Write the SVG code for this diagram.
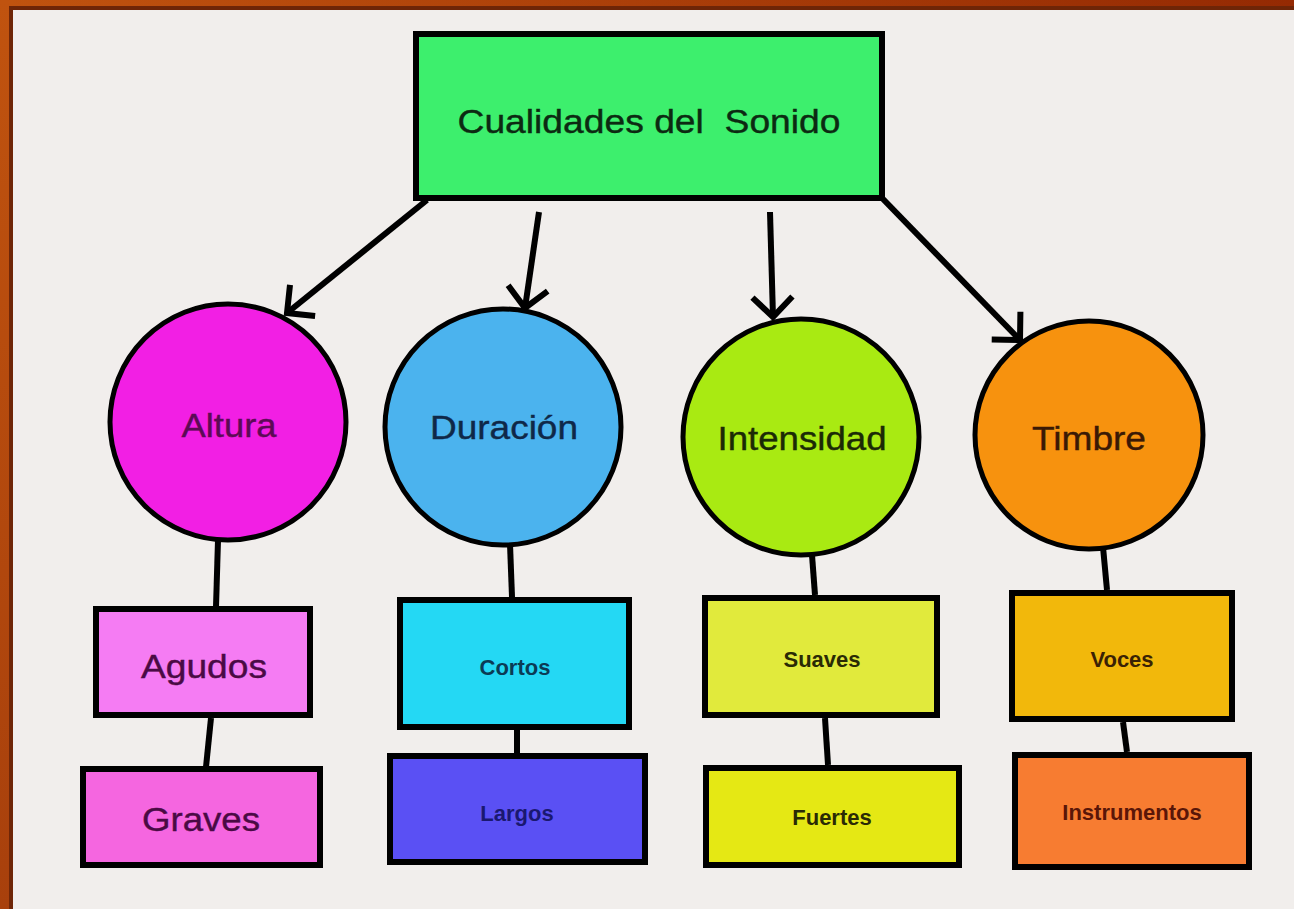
<svg xmlns="http://www.w3.org/2000/svg" width="1294" height="909" viewBox="0 0 1294 909">
<defs>
  <linearGradient id="frameH" x1="0" y1="0" x2="1" y2="0">
    <stop offset="0" stop-color="#c0530f"/>
    <stop offset="1" stop-color="#952a03"/>
  </linearGradient>
  <linearGradient id="frameV" x1="0" y1="0" x2="0" y2="1">
    <stop offset="0" stop-color="#c0530f"/>
    <stop offset="1" stop-color="#a8400c"/>
  </linearGradient>
  <marker id="chev" markerUnits="userSpaceOnUse" markerWidth="60" markerHeight="60" viewBox="-30 -30 60 60" refX="0" refY="0" orient="auto" overflow="visible">
    <path d="M-20,-20 L0,0 L-20,20" fill="none" stroke="#000" stroke-width="6" stroke-linecap="butt" stroke-linejoin="miter"/>
  </marker>
</defs>
<style>
  .box { stroke: #000; stroke-width: 6; }
  .circ { stroke: #000; stroke-width: 5; }
  .big { font-family: "Liberation Sans", Arial, sans-serif; font-size: 34px; text-anchor: middle; stroke-width: 0.4; }
  .small { font-family: "Liberation Sans", Arial, sans-serif; font-size: 22px; font-weight: bold; text-anchor: middle; }
  .conn { stroke: #000; stroke-width: 6; fill: none; }
</style>
<rect x="0" y="0" width="1294" height="909" fill="#f1eeec"/>
<rect x="0" y="0" width="1294" height="10" fill="url(#frameH)"/>
<rect x="13" y="6" width="1281" height="4" fill="#6e2507"/>
<rect x="0" y="0" width="13" height="909" fill="url(#frameV)"/>
<rect x="9" y="6" width="4" height="903" fill="#6e2507"/>

<g id="connectors">
  <line class="conn" x1="427" y1="200" x2="287" y2="313" marker-end="url(#chev)"/>
  <line class="conn" x1="539" y1="212" x2="525" y2="308" marker-end="url(#chev)"/>
  <line class="conn" x1="770" y1="212" x2="773" y2="317" marker-end="url(#chev)"/>
  <line class="conn" x1="882" y1="198" x2="1020" y2="340" marker-end="url(#chev)"/>
  <line class="conn" x1="218" y1="540" x2="216" y2="607"/>
  <line class="conn" x1="211" y1="718" x2="206" y2="767"/>
  <line class="conn" x1="510" y1="544" x2="512" y2="597"/>
  <line class="conn" x1="517" y1="730" x2="517" y2="753"/>
  <line class="conn" x1="812" y1="555" x2="815" y2="595"/>
  <line class="conn" x1="825" y1="718" x2="828" y2="765"/>
  <line class="conn" x1="1103" y1="547" x2="1107" y2="590"/>
  <line class="conn" x1="1123" y1="722" x2="1127" y2="752"/>
</g>

<g id="title">
  <rect class="box" x="416" y="34" width="466" height="164" fill="#3def6d"/>
  <text class="big" x="649" y="133" fill="#0c2a12" stroke="#0c2a12" font-size="36" textLength="383" lengthAdjust="spacingAndGlyphs" xml:space="preserve">Cualidades del  Sonido</text>
</g>

<g id="altura">
  <circle class="circ" cx="228" cy="422" r="118" fill="#f21fe4"/>
  <text class="big" x="229" y="437" fill="#5c0a55" stroke="#5c0a55" font-size="32" textLength="95" lengthAdjust="spacingAndGlyphs">Altura</text>
</g>
<g id="duracion">
  <circle class="circ" cx="503" cy="427" r="118" fill="#4bb3ee"/>
  <text class="big" x="504" y="439" fill="#0f2848" stroke="#0f2848" textLength="148" lengthAdjust="spacingAndGlyphs">Duración</text>
</g>
<g id="intensidad">
  <circle class="circ" cx="801" cy="437" r="118" fill="#a9ea12"/>
  <text class="big" x="802" y="450" fill="#1b2a06" stroke="#1b2a06" textLength="169" lengthAdjust="spacingAndGlyphs">Intensidad</text>
</g>
<g id="timbre">
  <circle class="circ" cx="1089" cy="435" r="114" fill="#f7920e"/>
  <text class="big" x="1089" y="450" fill="#3a1905" stroke="#3a1905" textLength="114" lengthAdjust="spacingAndGlyphs">Timbre</text>
</g>

<g id="agudos">
  <rect class="box" x="96" y="609" width="214" height="106" fill="#f57cf3"/>
  <text class="big" x="204" y="678" fill="#4a0a44" stroke="#4a0a44" font-size="35" textLength="126" lengthAdjust="spacingAndGlyphs">Agudos</text>
</g>
<g id="graves">
  <rect class="box" x="83" y="769" width="237" height="96" fill="#f566e0"/>
  <text class="big" x="201" y="831" fill="#4a0a44" stroke="#4a0a44" font-size="35" textLength="118" lengthAdjust="spacingAndGlyphs">Graves</text>
</g>
<g id="cortos">
  <rect class="box" x="400" y="600" width="229" height="127" fill="#24d8f4"/>
  <text class="small" x="515" y="675" fill="#0b3b55">Cortos</text>
</g>
<g id="largos">
  <rect class="box" x="390" y="756" width="255" height="106" fill="#5a50f4"/>
  <text class="small" x="517" y="821" fill="#1a1870">Largos</text>
</g>
<g id="suaves">
  <rect class="box" x="705" y="598" width="232" height="117" fill="#e1ea3c"/>
  <text class="small" x="822" y="667" fill="#2a2a05">Suaves</text>
</g>
<g id="fuertes">
  <rect class="box" x="706" y="768" width="253" height="97" fill="#e5e814"/>
  <text class="small" x="832" y="825" fill="#2a2a05">Fuertes</text>
</g>
<g id="voces">
  <rect class="box" x="1012" y="593" width="220" height="126" fill="#f2b80b"/>
  <text class="small" x="1122" y="667" fill="#3a2205">Voces</text>
</g>
<g id="instrumentos">
  <rect class="box" x="1015" y="755" width="234" height="112" fill="#f77c31"/>
  <text class="small" x="1132" y="820" fill="#5a1608">Instrumentos</text>
</g>
</svg>
